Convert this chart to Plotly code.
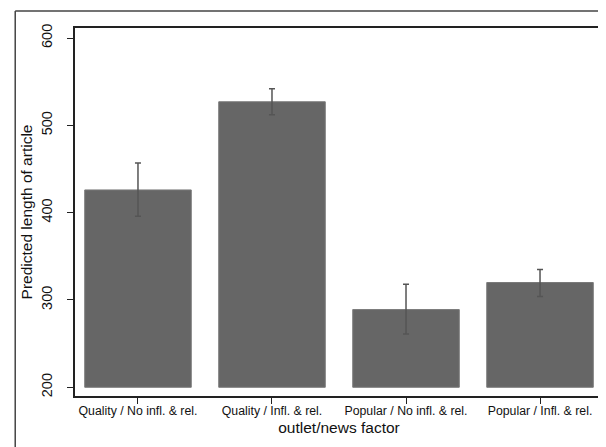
import plotly.graph_objects as go

categories = ["Quality / No infl. & rel.", "Quality / Infl. & rel.",
              "Popular / No infl. & rel.", "Popular / Infl. & rel."]
predicted = [426, 527, 289, 320]
ci_upper = [457, 542, 318, 335]
ci_lower = [396, 512, 261, 304]
y_ticks = [200, 300, 400, 500, 600]
baseline = 200

heights = [p - baseline for p in predicted]
err_plus = [u - p for u, p in zip(ci_upper, predicted)]
err_minus = [p - l for p, l in zip(predicted, ci_lower)]

fig = go.Figure()
fig.add_trace(go.Bar(
    x=categories, y=heights, base=baseline, width=0.795,
    marker=dict(color="#666666", line=dict(color="#7a7a7a", width=1)),
    error_y=dict(type="data", symmetric=False, array=err_plus, arrayminus=err_minus,
                 color="#555555", thickness=1.5, width=3),
    showlegend=False,
))

fig.update_layout(
    width=606, height=447,
    margin=dict(l=67, r=9, t=20, b=59, pad=0),
    paper_bgcolor="white", plot_bgcolor="white",
    font=dict(family="Liberation Sans, Arial, sans-serif", color="#111111"),
    xaxis=dict(
        range=[-0.47, 3.47], showgrid=False, zeroline=False,
        showline=True, linecolor="#222222", linewidth=1.5, mirror=True,
        ticks="outside", ticklen=6, tickcolor="#222222", tickwidth=1.2,
        tickfont=dict(size=12.3), ticklabelstandoff=-4,
        title=dict(text="outlet/news factor", font=dict(size=15.5), standoff=6),
    ),
    yaxis=dict(
        range=[190, 611.5], tickvals=y_ticks, showgrid=False, zeroline=False,
        showline=True, linecolor="#222222", linewidth=1.5, mirror=True,
        ticks="outside", ticklen=6, tickcolor="#222222", tickwidth=1.2,
        tickangle=-90, tickfont=dict(size=14.5), ticklabelstandoff=9,
        title=dict(text="Predicted length of article", font=dict(size=15.5), standoff=3),
    ),
    shapes=[
        dict(type="line", xref="paper", yref="paper",
             x0=(7 - 67) / 530, x1=(606 - 67) / 530 + 0.05,
             y0=(447 - 59 - 3) / 368, y1=(447 - 59 - 3) / 368,
             line=dict(color="#444444", width=1.5)),
        dict(type="line", xref="paper", yref="paper",
             x0=(7 - 67) / 530, x1=(7 - 67) / 530,
             y0=(447 - 59 - 3) / 368, y1=-59 / 368 - 0.05,
             line=dict(color="#444444", width=1.5)),
    ],
)

fig.write_html("out.html")
